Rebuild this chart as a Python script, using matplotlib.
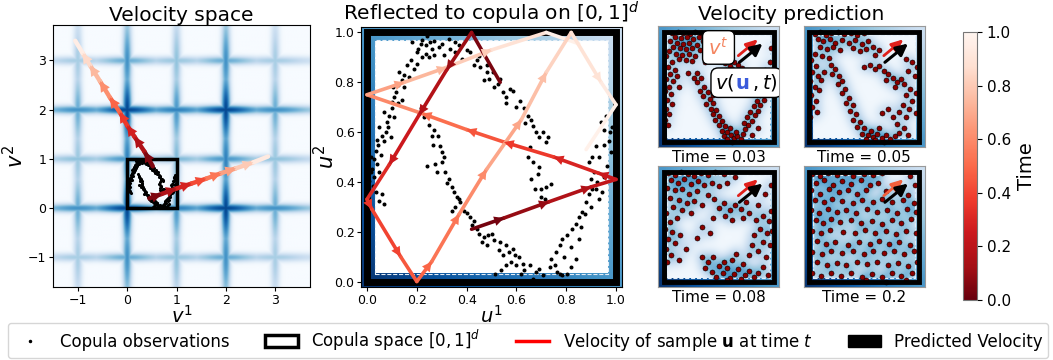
import numpy as np
import matplotlib
matplotlib.use("Agg")
import matplotlib.pyplot as plt
from matplotlib.collections import LineCollection
from matplotlib.patches import Rectangle, Patch, FancyBboxPatch
from matplotlib.lines import Line2D
from matplotlib import transforms

# two samples moving in velocity space: (v1, v2, time)
traj_a_v = [(0.45, 0.20, 0.00), (0.70, 0.29, 0.10), (1.00, 0.40, 0.22), (1.30, 0.50, 0.35),
            (1.60, 0.60, 0.48), (1.90, 0.71, 0.60), (2.20, 0.81, 0.73), (2.55, 0.93, 0.87),
            (2.85, 1.05, 1.00)]
traj_b_v = [(0.52, 0.85, 0.00), (0.35, 1.15, 0.10), (0.15, 1.45, 0.23), (0.00, 1.68, 0.32),
            (-0.15, 1.95, 0.42), (-0.35, 2.25, 0.55), (-0.55, 2.58, 0.68), (-0.75, 2.90, 0.81),
            (-0.90, 3.15, 0.90), (-1.05, 3.40, 1.00)]

# the same samples reflected into [0, 1]^2: (u1, u2, time)
traj_a_u = [(0.42, 0.21, 0.00), (0.55, 0.255, 0.06), (0.73, 0.32, 0.13), (0.90, 0.38, 0.20),
            (1.00, 0.41, 0.23), (0.93, 0.435, 0.26), (0.75, 0.50, 0.33), (0.55, 0.56, 0.41),
            (0.40, 0.61, 0.48), (0.22, 0.675, 0.55), (0.00, 0.75, 0.64), (0.15, 0.80, 0.70),
            (0.32, 0.86, 0.77), (0.50, 0.93, 0.84), (0.72, 1.00, 0.93), (0.85, 0.955, 1.00)]
traj_b_u = [(0.535, 0.80, 0.00), (0.42, 1.00, 0.08), (0.32, 0.85, 0.14), (0.21, 0.67, 0.21),
            (0.09, 0.47, 0.29), (0.00, 0.33, 0.34), (0.02, 0.29, 0.36), (0.135, 0.10, 0.43),
            (0.20, 0.00, 0.47), (0.26, 0.08, 0.50), (0.37, 0.27, 0.57), (0.48, 0.45, 0.64),
            (0.62, 0.65, 0.73), (0.72, 0.84, 0.80), (0.82, 1.00, 0.86), (0.94, 0.80, 0.92),
            (1.00, 0.71, 0.95), (0.88, 0.53, 1.00)]

# copula observations
obs = [
    (0.22, 0.97), (0.215, 0.955), (0.205, 0.935), (0.235, 0.95), (0.255, 0.96), (0.26, 0.935),
    (0.235, 0.915), (0.22, 0.90), (0.25, 0.90), (0.33, 0.975), (0.29, 0.94), (0.335, 0.935),
    (0.355, 0.92), (0.37, 0.95), (0.38, 0.895), (0.175, 0.89), (0.16, 0.87), (0.19, 0.855),
    (0.15, 0.83), (0.14, 0.81), (0.125, 0.79), (0.15, 0.78), (0.115, 0.76), (0.11, 0.74),
    (0.125, 0.715), (0.10, 0.695), (0.09, 0.665), (0.08, 0.64), (0.075, 0.60), (0.06, 0.585),
    (0.07, 0.565), (0.045, 0.55), (0.035, 0.525), (0.055, 0.51), (0.03, 0.49), (0.02, 0.45),
    (0.015, 0.44), (0.03, 0.42), (0.01, 0.405), (0.025, 0.385), (0.06, 0.35), (0.05, 0.325),
    (0.003, 0.546), (0.25, 0.63), (0.26, 0.585), (0.285, 0.585), (0.295, 0.545), (0.30, 0.52),
    (0.24, 0.465), (0.275, 0.47), (0.30, 0.48), (0.315, 0.44), (0.33, 0.41), (0.32, 0.395),
    (0.37, 0.33), (0.355, 0.30), (0.375, 0.32), (0.34, 0.285), (0.415, 0.26), (0.43, 0.245),
    (0.42, 0.225), (0.45, 0.19), (0.47, 0.18), (0.485, 0.185), (0.51, 0.165), (0.48, 0.145),
    (0.535, 0.16), (0.56, 0.145), (0.585, 0.13), (0.595, 0.105), (0.56, 0.065), (0.60, 0.065),
    (0.625, 0.07), (0.655, 0.065), (0.68, 0.04), (0.705, 0.025), (0.665, 0.01), (0.515, 0.03),
    (0.545, 0.105), (0.215, 0.695), (0.23, 0.66), (0.415, 0.92), (0.44, 0.89), (0.455, 0.86),
    (0.48, 0.84), (0.49, 0.815), (0.525, 0.795), (0.545, 0.76), (0.56, 0.74), (0.585, 0.765),
    (0.615, 0.725), (0.63, 0.695), (0.645, 0.665), (0.635, 0.635), (0.665, 0.625), (0.68, 0.60),
    (0.705, 0.60), (0.725, 0.58), (0.72, 0.56), (0.645, 0.50), (0.665, 0.48), (0.685, 0.43),
    (0.675, 0.37), (0.70, 0.37), (0.72, 0.38), (0.74, 0.39), (0.715, 0.33), (0.40, 0.93),
    (0.45, 0.905), (0.48, 0.87), (0.505, 0.84), (0.535, 0.815), (0.575, 0.775), (0.96, 0.665),
    (0.94, 0.64), (0.97, 0.565), (0.95, 0.55), (0.92, 0.545), (0.905, 0.50), (0.89, 0.48),
    (0.91, 0.44), (0.925, 0.40), (0.905, 0.37), (0.89, 0.35), (0.88, 0.32), (0.90, 0.30),
    (0.865, 0.28), (0.85, 0.26), (0.84, 0.23), (0.825, 0.21), (0.805, 0.185), (0.785, 0.17),
    (0.775, 0.145), (0.76, 0.12), (0.74, 0.09), (0.755, 0.065), (0.735, 0.06), (0.775, 0.03),
    (0.785, 0.025), (0.805, 0.03), (0.84, 0.09), (0.85, 0.17), (0.93, 0.33), (0.945, 0.36),
    (0.965, 0.465), (0.98, 0.52), (0.20, 0.92), (0.27, 0.965), (0.31, 0.91), (0.10, 0.72),
    (0.085, 0.62), (0.04, 0.47), (0.35, 0.36), (0.39, 0.285), (0.61, 0.10), (0.63, 0.045),
    (0.18, 0.96), (0.24, 0.985), (0.30, 0.955), (0.355, 0.96), (0.27, 0.91), (0.20, 0.875),
    (0.17, 0.82), (0.13, 0.84), (0.105, 0.78), (0.14, 0.73), (0.07, 0.68), (0.11, 0.66),
    (0.05, 0.62), (0.095, 0.58), (0.04, 0.57), (0.015, 0.50), (0.05, 0.44), (0.0, 0.42),
    (0.035, 0.36), (0.07, 0.31), (0.27, 0.61), (0.265, 0.55), (0.31, 0.50), (0.28, 0.44),
    (0.34, 0.38), (0.36, 0.34), (0.40, 0.275), (0.44, 0.21), (0.46, 0.16), (0.50, 0.19),
    (0.53, 0.125), (0.57, 0.12), (0.58, 0.08), (0.54, 0.045), (0.62, 0.03), (0.69, 0.05),
    (0.43, 0.87), (0.47, 0.81), (0.51, 0.78), (0.56, 0.715), (0.60, 0.70), (0.66, 0.65),
    (0.69, 0.58), (0.655, 0.54), (0.69, 0.46), (0.66, 0.41), (0.70, 0.34), (0.95, 0.61),
    (0.975, 0.60), (0.93, 0.50), (0.95, 0.42), (0.92, 0.37), (0.875, 0.27), (0.86, 0.22),
    (0.82, 0.14), (0.79, 0.10), (0.765, 0.04), (0.82, 0.06), (0.90, 0.41), (0.985, 0.62),
]

# samples of the flow at four times
pred_times = ["0.03", "0.05", "0.08", "0.2"]
arrow_colors = ["#e0201b", "#e0201b", "#e0201b", "#f4603c"]

samples_003 = [
    (0.08, 0.99), (0.13, 1.0), (0.18, 0.99), (0.24, 0.98), (0.29, 1.0), (0.34, 0.99), (0.1, 0.95),
    (0.16, 0.94), (0.21, 0.95), (0.27, 0.93), (0.32, 0.95), (0.06, 0.91), (0.12, 0.9), (0.18, 0.89),
    (0.23, 0.9), (0.3, 0.88), (0.36, 0.91), (0.09, 0.86), (0.15, 0.85), (0.2, 0.84), (0.26, 0.85),
    (0.33, 0.83), (0.05, 0.82), (0.11, 0.8), (0.17, 0.79), (0.23, 0.8), (0.29, 0.78), (0.14, 0.75),
    (0.2, 0.74), (0.26, 0.73), (0.38, 0.86), (0.42, 0.97), (0.46, 0.93), (0.02, 0.78), (0.08, 0.72),
    (0.04, 0.68), (0.1, 0.65), (0.06, 0.61), (0.02, 0.57), (0.09, 0.55), (0.05, 0.5), (0.01, 0.46),
    (0.07, 0.43), (0.03, 0.38), (0.08, 0.34), (0.02, 0.3), (0.05, 0.25), (0.01, 0.2), (0.04, 0.15),
    (0.12, 0.6), (0.14, 0.5), (0.3, 0.62), (0.34, 0.58), (0.3, 0.54), (0.37, 0.5), (0.33, 0.46),
    (0.4, 0.45), (0.36, 0.41), (0.42, 0.39), (0.45, 0.35), (0.39, 0.34), (0.43, 0.3), (0.48, 0.29),
    (0.45, 0.25), (0.5, 0.23), (0.47, 0.2), (0.53, 0.19), (0.5, 0.15), (0.56, 0.14), (0.53, 0.1),
    (0.58, 0.09), (0.55, 0.05), (0.61, 0.06), (0.58, 0.02), (0.64, 0.03), (0.67, 0.05), (0.62, 0.0),
    (0.7, 0.02), (0.66, 0.09), (0.72, 0.07), (0.6, 0.12), (0.45, 0.42), (0.28, 0.58), (0.74, 0.11),
    (0.77, 0.15), (0.73, 0.17), (0.8, 0.19), (0.76, 0.22), (0.83, 0.24), (0.79, 0.27), (0.86, 0.28),
    (0.82, 0.32), (0.88, 0.33), (0.85, 0.37), (0.91, 0.38), (0.88, 0.42), (0.94, 0.44), (0.9, 0.47),
    (0.96, 0.5), (0.93, 0.53), (0.98, 0.56), (0.95, 0.6), (0.99, 0.64), (0.92, 0.65), (0.97, 0.72),
    (0.84, 0.43), (0.8, 0.06), (0.86, 0.12), (0.56, 0.71), (0.6, 0.69), (0.64, 0.72), (0.68, 0.7),
    (0.62, 0.66), (0.71, 0.67), (0.52, 0.74), (0.57, 0.65), (0.45, 0.78), (0.38, 0.72), (0.98, 0.85),
    (0.22, 0.62),
]
samples_005 = [
    (0.05, 0.98), (0.1, 1.0), (0.15, 0.97), (0.2, 0.99), (0.26, 1.0), (0.32, 0.98), (0.38, 0.99),
    (0.44, 0.97), (0.5, 0.99), (0.08, 0.93), (0.13, 0.91), (0.19, 0.93), (0.24, 0.9), (0.3, 0.92),
    (0.36, 0.9), (0.42, 0.92), (0.48, 0.89), (0.54, 0.91), (0.1, 0.86), (0.16, 0.84), (0.22, 0.86),
    (0.28, 0.83), (0.4, 0.85), (0.46, 0.82), (0.52, 0.84), (0.58, 0.86), (0.12, 0.78), (0.18, 0.76),
    (0.05, 0.8), (0.6, 0.79), (0.64, 0.83), (0.02, 0.74), (0.06, 0.69), (0.03, 0.63), (0.08, 0.6),
    (0.01, 0.55), (0.05, 0.5), (0.09, 0.47), (0.02, 0.42), (0.06, 0.37), (0.03, 0.31), (0.07, 0.27),
    (0.01, 0.22), (0.11, 0.56), (0.14, 0.63), (0.2, 0.7), (0.24, 0.66), (0.21, 0.61), (0.27, 0.6),
    (0.3, 0.55), (0.26, 0.52), (0.33, 0.48), (0.3, 0.44), (0.36, 0.4), (0.34, 0.35), (0.4, 0.33),
    (0.37, 0.28), (0.43, 0.25), (0.4, 0.2), (0.46, 0.18), (0.44, 0.13), (0.5, 0.12), (0.48, 0.07),
    (0.54, 0.06), (0.52, 0.02), (0.58, 0.04), (0.62, 0.07), (0.6, 0.01), (0.66, 0.03), (0.7, 0.06),
    (0.68, 0.0), (0.74, 0.02), (0.78, 0.05), (0.56, 0.1), (0.64, 0.12), (0.5, 0.68), (0.55, 0.7),
    (0.6, 0.66), (0.64, 0.69), (0.68, 0.64), (0.72, 0.61), (0.7, 0.56), (0.76, 0.58), (0.8, 0.54),
    (0.84, 0.57), (0.78, 0.5), (0.88, 0.75), (0.94, 0.72), (0.98, 0.68), (0.9, 0.64), (0.96, 0.6),
    (0.86, 0.52), (0.92, 0.48), (0.97, 0.44), (0.88, 0.42), (0.94, 0.37), (0.85, 0.33), (0.91, 0.3),
    (0.97, 0.26), (0.82, 0.27), (0.88, 0.22), (0.8, 0.16), (0.86, 0.12), (0.82, 0.08), (0.9, 0.06),
    (0.76, 0.22), (0.72, 0.3), (0.66, 0.26),
]
samples_008 = [
    (0.04, 0.99), (0.1, 0.97), (0.16, 1.0), (0.22, 0.98), (0.28, 0.96), (0.34, 0.99), (0.4, 0.97),
    (0.47, 1.0), (0.55, 0.98), (0.07, 0.92), (0.13, 0.9), (0.19, 0.93), (0.25, 0.89), (0.31, 0.91),
    (0.37, 0.88), (0.44, 0.9), (0.5, 0.87), (0.58, 0.9), (0.65, 0.95), (0.03, 0.85), (0.1, 0.83),
    (0.17, 0.84), (0.23, 0.8), (0.3, 0.82), (0.4, 0.79), (0.06, 0.76), (0.14, 0.74), (0.21, 0.71),
    (0.28, 0.73), (0.35, 0.7), (0.09, 0.68), (0.17, 0.65), (0.46, 0.75), (0.25, 0.62), (0.12, 0.58),
    (0.5, 0.67), (0.55, 0.71), (0.6, 0.65), (0.65, 0.7), (0.7, 0.66), (0.75, 0.72), (0.56, 0.6),
    (0.62, 0.56), (0.72, 0.58), (0.78, 0.62), (0.45, 0.58), (0.35, 0.5), (0.42, 0.44), (0.3, 0.4),
    (0.02, 0.62), (0.06, 0.54), (0.01, 0.48), (0.08, 0.45), (0.04, 0.39), (0.1, 0.35), (0.02, 0.3),
    (0.07, 0.24), (0.03, 0.18), (0.15, 0.42), (0.2, 0.3), (0.14, 0.2), (0.84, 0.56), (0.9, 0.6),
    (0.96, 0.55), (0.98, 0.64), (0.88, 0.48), (0.94, 0.44), (0.82, 0.42), (0.9, 0.36), (0.97, 0.33),
    (0.86, 0.28), (0.8, 0.33), (0.93, 0.22), (0.78, 0.24), (0.99, 0.46), (0.92, 0.8), (0.98, 0.88),
    (0.86, 0.7), (0.35, 0.22), (0.4, 0.18), (0.45, 0.22), (0.38, 0.12), (0.44, 0.09), (0.5, 0.14),
    (0.48, 0.04), (0.54, 0.08), (0.58, 0.12), (0.6, 0.03), (0.64, 0.07), (0.68, 0.11), (0.7, 0.02),
    (0.74, 0.06), (0.78, 0.1), (0.82, 0.04), (0.86, 0.08), (0.9, 0.13), (0.55, 0.18), (0.62, 0.2),
    (0.72, 0.16), (0.66, 0.25), (0.58, 0.01), (0.95, 0.06),
]
samples_020 = [
    (0.03, 0.98), (0.1, 0.96), (0.17, 0.99), (0.25, 0.97), (0.33, 0.99), (0.4, 0.96), (0.5, 0.98),
    (0.58, 0.97), (0.66, 0.99), (0.92, 0.96), (0.06, 0.9), (0.14, 0.92), (0.22, 0.88), (0.3, 0.91),
    (0.38, 0.89), (0.47, 0.92), (0.55, 0.88), (0.63, 0.9), (0.96, 0.88), (0.02, 0.83), (0.1, 0.8),
    (0.18, 0.84), (0.27, 0.81), (0.35, 0.83), (0.44, 0.8), (0.52, 0.83), (0.7, 0.82), (0.8, 0.85),
    (0.9, 0.79), (0.05, 0.74), (0.14, 0.72), (0.21, 0.75), (0.3, 0.73), (0.4, 0.71), (0.48, 0.74),
    (0.58, 0.72), (0.66, 0.75), (0.75, 0.72), (0.85, 0.74), (0.95, 0.71), (0.02, 0.65), (0.09, 0.62),
    (0.17, 0.66), (0.25, 0.63), (0.34, 0.65), (0.43, 0.62), (0.53, 0.66), (0.62, 0.63), (0.71, 0.65),
    (0.8, 0.62), (0.89, 0.66), (0.97, 0.63), (0.06, 0.56), (0.13, 0.53), (0.2, 0.57), (0.28, 0.54),
    (0.38, 0.56), (0.47, 0.53), (0.57, 0.55), (0.66, 0.52), (0.75, 0.56), (0.84, 0.53), (0.93, 0.57),
    (0.03, 0.46), (0.11, 0.44), (0.19, 0.47), (0.31, 0.45), (0.42, 0.44), (0.51, 0.47), (0.6, 0.44),
    (0.7, 0.46), (0.79, 0.43), (0.88, 0.46), (0.97, 0.44), (0.07, 0.37), (0.15, 0.34), (0.24, 0.36),
    (0.35, 0.33), (0.45, 0.36), (0.55, 0.34), (0.64, 0.37), (0.73, 0.34), (0.82, 0.36), (0.92, 0.33),
    (0.03, 0.27), (0.12, 0.25), (0.2, 0.28), (0.3, 0.26), (0.4, 0.28), (0.5, 0.25), (0.58, 0.28),
    (0.68, 0.26), (0.77, 0.28), (0.86, 0.25), (0.95, 0.28), (0.07, 0.18), (0.16, 0.15), (0.25, 0.17),
    (0.34, 0.15), (0.44, 0.18), (0.53, 0.16), (0.62, 0.18), (0.72, 0.15), (0.81, 0.17), (0.9, 0.14),
    (0.98, 0.18), (0.03, 0.08), (0.11, 0.05), (0.2, 0.08), (0.29, 0.05), (0.38, 0.08), (0.48, 0.04),
    (0.57, 0.07), (0.66, 0.04), (0.75, 0.08), (0.84, 0.05), (0.94, 0.08), (0.52, 0.01), (0.7, 0.0),
    (0.88, 0.01),
]
samples = [samples_003, samples_005, samples_008, samples_020]

# reflected grid lines in velocity space and their strength
grid_pos = [-1, 0, 1, 2, 3]
grid_weight = [0.55, 1.0, 0.65, 1.0, 0.55]

cmap_t = plt.get_cmap("Reds_r")
norm_t = plt.Normalize(0, 1)

fig = plt.figure(figsize=(10.53, 3.6), dpi=100)
W, H = 1053, 360


def px_axes(x0, y0, x1, y1):
    return fig.add_axes([x0 / W, 1 - y1 / H, (x1 - x0) / W, (y1 - y0) / H])


def draw_path(ax, pts, lw, head, skip_edges=False):
    pts = np.asarray(pts, dtype=float)
    xy, t = pts[:, :2], pts[:, 2]
    segs = np.stack([xy[:-1], xy[1:]], axis=1)
    cols = cmap_t(norm_t((t[:-1] + t[1:]) / 2))
    ax.add_collection(LineCollection(segs, colors=cols, linewidths=lw,
                                     capstyle="round", joinstyle="round", zorder=5))
    for i, (a, b) in enumerate(segs):
        if i == len(segs) - 1:
            continue
        if skip_edges and (min(b) <= 0.001 or max(b) >= 0.999):
            continue
        d = b - a
        ax.annotate("", xy=b, xytext=b - 0.3 * d,
                    arrowprops=dict(arrowstyle=f"-|>,head_length={head},head_width={head * 0.5}",
                                    color=cols[i], lw=0, shrinkA=0, shrinkB=0), zorder=6)


def border_band(ax, lo, hi, width):
    g = np.linspace(lo, hi, 400)
    X, Y = np.meshgrid(g, g)
    band = (X < width) | (X > 1 - width) | (Y < width) | (Y > 1 - width)
    val = 0.98 - 0.38 * (np.clip(X, 0, 1) + np.clip(Y, 0, 1))
    ax.imshow(np.ma.masked_where(~band, val), extent=(lo, hi, lo, hi), origin="lower",
              cmap="Blues", vmin=0, vmax=1, interpolation="nearest", zorder=1)
    ax.add_patch(Rectangle((width, width), 1 - 2 * width, 1 - 2 * width, fill=False,
                           ec="#e3eef8", lw=0.8, ls="--", zorder=2))


# ---- velocity space ----
ax1 = px_axes(53, 25, 310, 287)
xlim, ylim = (-1.5, 3.7), (-1.6, 3.72)
gx = np.linspace(*xlim, 600)
gy = np.linspace(*ylim, 600)
GX, GY = np.meshgrid(gx, gy)


def line_profile(g, s):
    return np.max([w * np.exp(-(g - p) ** 2 / (2 * s ** 2)) for p, w in zip(grid_pos, grid_weight)], axis=0)


sharp_x, sharp_y = line_profile(GX, 0.065), line_profile(GY, 0.065)
soft_x, soft_y = line_profile(GX, 0.45), line_profile(GY, 0.45)
field = np.maximum(sharp_x * (0.3 + 0.7 * soft_y), sharp_y * (0.3 + 0.7 * soft_x))
ax1.imshow(field, extent=(*xlim, *ylim), origin="lower", cmap="Blues", vmin=0, vmax=1.1,
           interpolation="bilinear", aspect="auto", zorder=0)
obs_arr = np.array(obs)
ax1.scatter(obs_arr[:, 0], obs_arr[:, 1], s=1.5, c="k", zorder=3)
ax1.add_patch(Rectangle((0, 0), 1, 1, fill=False, ec="k", lw=2.5, zorder=4))
draw_path(ax1, traj_a_v, 3.2, 0.75)
draw_path(ax1, traj_b_v, 3.2, 0.75)
ax1.set_xlim(xlim)
ax1.set_ylim(ylim)
ax1.set_xticks(grid_pos)
ax1.set_yticks(grid_pos)
ax1.tick_params(labelsize=9, length=3, pad=2)
ax1.set_title("Velocity space", fontsize=14.5, pad=3)
ax1.set_xlabel("$v^1$", fontsize=14)
ax1.set_ylabel("$v^2$", fontsize=15)
ax1.xaxis.set_label_coords(0.5, -0.068)
ax1.yaxis.set_label_coords(-0.10, 0.5)

# ---- reflected copula space ----
ax2 = px_axes(361, 27, 622, 287)
border_band(ax2, -0.022, 1.022, 0.032)
ax2.scatter(obs_arr[:, 0], obs_arr[:, 1], s=3.5, c="k", zorder=3)
ax2.add_patch(Rectangle((0, 0), 1, 1, fill=False, ec="k", lw=5, zorder=4))
draw_path(ax2, traj_a_u, 2.6, 0.7, skip_edges=True)
draw_path(ax2, traj_b_u, 2.6, 0.7, skip_edges=True)
ax2.set_xlim(-0.022, 1.022)
ax2.set_ylim(-0.022, 1.022)
ticks = [0.0, 0.2, 0.4, 0.6, 0.8, 1.0]
ax2.set_xticks(ticks)
ax2.set_yticks(ticks)
ax2.tick_params(labelsize=9, length=3, pad=2)
ax2.set_title("Reflected to copula on $[0,1]^d$", fontsize=14.5, pad=2)
ax2.set_xlabel("$u^1$", fontsize=14)
ax2.set_ylabel("$u^2$", fontsize=15)
ax2.xaxis.set_label_coords(0.5, -0.068)
ax2.yaxis.set_label_coords(-0.088, 0.5)

# ---- predicted velocity at several times ----
boxes = [(658, 26, 779, 147), (803, 26, 925, 147), (658, 166, 779, 287), (803, 166, 925, 287)]
lo, hi = -0.05, 1.05
g = np.linspace(lo, hi, 220)
KX, KY = np.meshgrid(g, g)
rend = fig.canvas.get_renderer()
for k, (box, pts) in enumerate(zip(boxes, samples)):
    ax = px_axes(*box)
    p = np.array(pts)
    dens = np.zeros_like(KX)
    for px, py in p:
        dens += np.exp(-((KX - px) ** 2 + (KY - py) ** 2) / (2 * 0.05 ** 2))
    dens /= dens.max()
    ax.imshow(dens, extent=(lo, hi, lo, hi), origin="lower", cmap="Blues", vmin=-0.05, vmax=1.7,
              interpolation="bilinear", zorder=0)
    border_band(ax, lo, hi, 0.035)
    ax.scatter(p[:, 0], p[:, 1], s=13, c="#8b0000", edgecolors="k", linewidths=0.4, zorder=3)
    ax.add_patch(Rectangle((0, 0), 1, 1, fill=False, ec="k", lw=3.5, zorder=4))
    ax.annotate("", xy=(0.86, 0.93), xytext=(0.68, 0.78),
                arrowprops=dict(arrowstyle="-|>,head_length=0.7,head_width=0.3",
                                color=arrow_colors[k], lw=2.0, shrinkA=0, shrinkB=0), zorder=6)
    ax.annotate("", xy=(0.9, 0.89), xytext=(0.69, 0.72),
                arrowprops=dict(arrowstyle="-|>,head_length=0.7,head_width=0.35",
                                color="k", lw=2.2, shrinkA=0, shrinkB=0), zorder=7)
    ax.set_xlim(lo, hi)
    ax.set_ylim(lo, hi)
    ax.set_xticks([])
    ax.set_yticks([])
    for sp in ax.spines.values():
        sp.set_color("#999999")
    ax.set_xlabel(f"Time = {pred_times[k]}", fontsize=11, labelpad=2)
    if k == 0:
        ax.text(0.5, 0.855, "$v^t$", color="#f4845f", fontsize=14, ha="center", va="center",
                zorder=8, bbox=dict(boxstyle="round,pad=0.3", fc="white", ec="k", lw=1))
        # v(u, t) with the sample written in blue, boxed like the label above
        x0, y0 = 0.47, 0.48
        tr = ax.transData
        pieces = []
        for piece, col in [(r"$v($", "k"), (r"$\mathbf{u}$", "#3b5bdb"), (r"$\,,t)$", "k")]:
            tx = ax.text(x0, y0, piece, color=col, fontsize=14, ha="left", va="baseline",
                         transform=tr, zorder=9)
            tx.draw(rend)
            pieces.append(tx.get_window_extent(rend))
            tr = transforms.offset_copy(tx.get_transform(), x=pieces[-1].width,
                                        units="dots", fig=fig)
        ext = transforms.Bbox.union(pieces)
        (bx0, by0), (bx1, by1) = ax.transAxes.inverted().transform(ext.get_points())
        pad = 0.035
        ax.add_patch(FancyBboxPatch((bx0, by0), bx1 - bx0, by1 - by0,
                                    boxstyle=f"round,pad={pad},rounding_size=0.06",
                                    transform=ax.transAxes, fc="white", ec="k", lw=1, zorder=8))

fig.text(791 / W, 1 - 14 / H, "Velocity prediction", fontsize=14.5, ha="center", va="center")

# ---- colour bar ----
cax = px_axes(963, 32, 977, 300)
sm = plt.cm.ScalarMappable(cmap=cmap_t, norm=norm_t)
cb = fig.colorbar(sm, cax=cax)
cb.set_ticks([0.0, 0.2, 0.4, 0.6, 0.8, 1.0])
cb.ax.tick_params(labelsize=11)
cb.outline.set_edgecolor("#777777")
cb.set_label("Time", fontsize=14, labelpad=4)

# ---- legend ----
handles = [
    Line2D([], [], marker=".", color="k", ls="", markersize=3),
    Patch(facecolor="white", edgecolor="k", lw=2.5),
    Line2D([], [], color="red", lw=2.5),
    Patch(facecolor="k", edgecolor="k"),
]
labels = ["Copula observations", "Copula space $[0,1]^d$",
          r"Velocity of sample $\mathbf{u}$ at time $t$", "Predicted Velocity"]
fig.legend(handles, labels, ncol=4, loc="lower left", mode="expand",
           bbox_to_anchor=(8 / W, 2 / H, 1040 / W, 34 / H), fontsize=12, borderpad=0.3,
           handlelength=2, handletextpad=0.8, borderaxespad=0, edgecolor="#cccccc")

fig.savefig("out.png", dpi=100)
